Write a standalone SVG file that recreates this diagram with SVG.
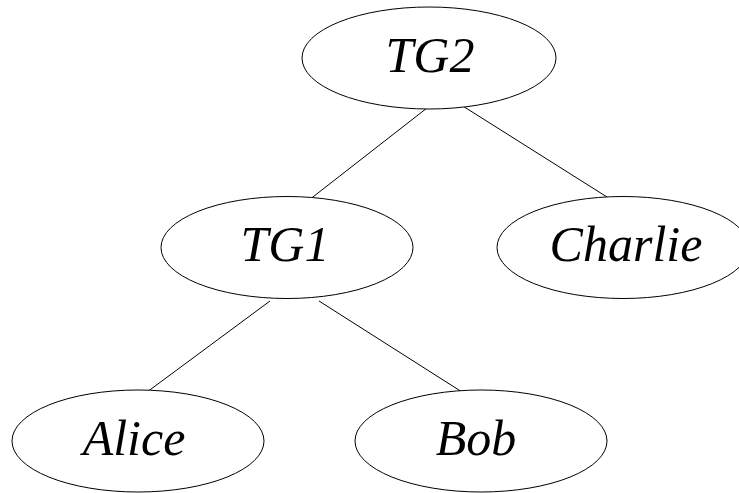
<svg xmlns="http://www.w3.org/2000/svg" width="739" height="493" viewBox="0 0 739 493">
<style>
.n ellipse{fill:#fff;stroke:#000;stroke-width:1}
.n text{font-family:"Liberation Serif","Times New Roman",serif;font-style:italic;font-size:50px;text-anchor:middle;fill:#000}
.e line{stroke:#000;stroke-width:1}
</style>
<rect width="739" height="493" fill="#fff"/>
<g id="connectors" class="e">
<line x1="427" y1="108" x2="309" y2="200"/>
<line x1="458" y1="103" x2="607" y2="197"/>
<line x1="270" y1="301" x2="143" y2="395"/>
<line x1="319" y1="301" x2="462" y2="392"/>
</g>
<g id="TG2" class="n"><ellipse cx="429" cy="58" rx="127" ry="51"/><text x="430" y="72">TG2</text></g>
<g id="TG1" class="n"><ellipse cx="287" cy="247.5" rx="126" ry="51"/><text x="285" y="261">TG1</text></g>
<g id="Charlie" class="n"><ellipse cx="623" cy="247.5" rx="126" ry="51"/><text x="626" y="261">Charlie</text></g>
<g id="Alice" class="n"><ellipse cx="138" cy="441" rx="126" ry="51"/><text x="134" y="455">Alice</text></g>
<g id="Bob" class="n"><ellipse cx="481" cy="441" rx="126" ry="51"/><text x="476" y="455">Bob</text></g>
</svg>
